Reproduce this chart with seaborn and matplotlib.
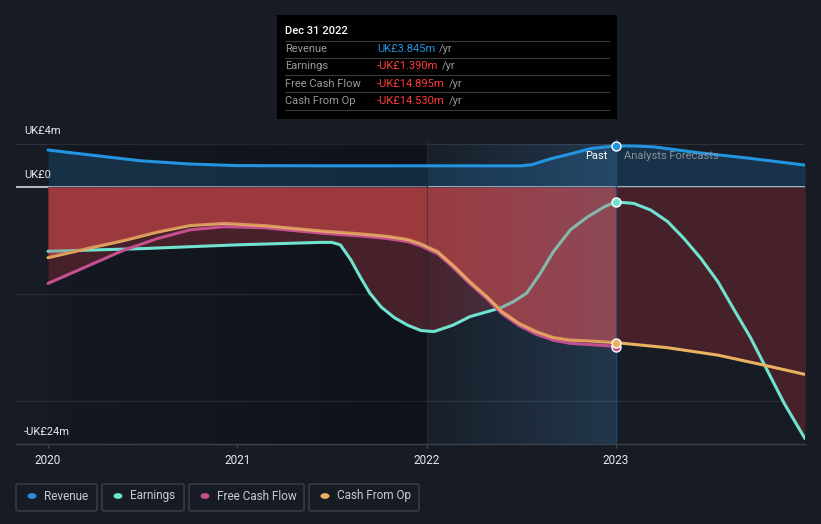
import numpy as np
import pandas as pd
import matplotlib
matplotlib.use("Agg")
import matplotlib.pyplot as plt
import seaborn as sns
from matplotlib.patches import FancyBboxPatch, Rectangle
import matplotlib.transforms as mtrans

# ---------------- data (UK£ m) ----------------
series_names = ["Revenue", "Earnings", "Free Cash Flow", "Cash From Op"]

rev_x = [2020.0, 2020.22, 2020.49, 2020.75, 2021.0, 2021.5, 2022.0, 2022.5, 2022.56, 2022.62,
         2022.68, 2022.74, 2022.87, 2023.0, 2023.1, 2023.2, 2023.44, 2023.7, 2024.0]
rev_y = [3.46, 3.0, 2.45, 2.15, 2.0, 1.98, 1.98, 1.98, 2.1, 2.45, 2.75, 3.0, 3.6, 3.845, 3.83,
         3.75, 3.2, 2.7, 2.05]

earn_x = [2020.0, 2020.5, 2021.0, 2021.44, 2021.5, 2021.545, 2021.6, 2021.65, 2021.7, 2021.76,
          2021.83, 2021.9, 2021.97, 2022.04, 2022.14, 2022.23, 2022.32, 2022.39, 2022.46,
          2022.53, 2022.6, 2022.67, 2022.76, 2022.85, 2022.94, 2023.0, 2023.095, 2023.185,
          2023.275, 2023.36, 2023.45, 2023.54, 2023.62, 2023.71, 2023.8, 2023.89, 2024.0]
earn_y = [-6.0, -5.75, -5.4, -5.17, -5.17, -5.4, -6.8, -8.4, -9.9, -11.2,
          -12.2, -12.9, -13.4, -13.5, -12.9, -12.1, -11.65, -11.3, -10.7,
          -9.9, -8.1, -6.05, -4.0, -2.8, -1.84, -1.39, -1.53, -2.15,
          -3.24, -4.8, -6.67, -8.85, -11.3, -14.0, -17.1, -20.2, -23.5]

fcf_x = [2020.0, 2020.22, 2020.4, 2020.58, 2020.75, 2020.93, 2021.14, 2021.32, 2021.44,
         2021.67, 2021.79, 2021.9, 2021.97, 2022.06, 2022.14, 2022.23, 2022.32, 2022.4,
         2022.49, 2022.58, 2022.67, 2022.76, 2022.85, 2022.94, 2023.0]
fcf_y = [-9.0, -7.3, -5.9, -4.8, -4.0, -3.7, -3.8, -4.1, -4.3,
         -4.6, -4.8, -5.1, -5.5, -6.25, -7.5, -9.05, -10.45, -11.85,
         -12.95, -13.75, -14.3, -14.6, -14.7, -14.8, -14.895]

cfo_x = [2020.0, 2020.22, 2020.4, 2020.58, 2020.75, 2020.93, 2021.14, 2021.32, 2021.44,
         2021.67, 2021.79, 2021.9, 2021.97, 2022.06, 2022.14, 2022.23, 2022.32, 2022.4,
         2022.49, 2022.58, 2022.67, 2022.76, 2022.85, 2023.0, 2023.27, 2023.54, 2023.8, 2024.0]
cfo_y = [-6.6, -5.7, -5.0, -4.2, -3.6, -3.4, -3.6, -3.9, -4.1,
         -4.4, -4.6, -4.9, -5.3, -6.05, -7.3, -8.85, -10.25, -11.65,
         -12.74, -13.5, -14.05, -14.3, -14.36, -14.53, -15.0, -15.7, -16.7, -17.5]

x_ticks = [2020, 2021, 2022, 2023]
x_tick_labels = ["2020", "2021", "2022", "2023"]
y_labels = {4: "UK£4m", 0: "UK£0", -24: "-UK£24m"}

tooltip_title = "Dec 31 2022"
tooltip_rows = [("Revenue", "UK£3.845m"), ("Earnings", "-UK£1.390m"),
                ("Free Cash Flow", "-UK£14.895m"), ("Cash From Op", "-UK£14.530m")]

# ---------------- style ----------------
C_REV = "#2394df"
C_EARN = "#6fe3d0"
C_FCF = "#c4508f"
C_CFO = "#e9b260"
colors = [C_REV, C_EARN, C_FCF, C_CFO]
BG = "#161b24"

sns.set_theme(style="dark")
plt.rcParams["font.family"] = ["Roboto", "DejaVu Sans"]

W, H = 821, 524
fig = plt.figure(figsize=(W / 100, H / 100), dpi=100, facecolor=BG)


def fx(px):
    return px / W


def fy(py):
    return 1 - py / H


YTOP = 4.5
ax = fig.add_axes([fx(16), fy(444), fx(805) - fx(16), fy(187 - YTOP * 10.7) - fy(444)])
ax.set_facecolor(BG)
for s in ["top", "right", "left"]:
    ax.spines[s].set_visible(False)
ax.spines["bottom"].set_color("#3b414b")
ax.spines["bottom"].set_linewidth(1)

# gridlines
for v in [4, -10, -20]:
    ax.axhline(v, color="#2c323b", lw=0.9, zorder=0.5)
ax.axhline(0, color="#e8e8ec", lw=1.1, zorder=0.6)

# left darker region
n = 200
dark = np.zeros((1, n, 4))
dark[0, :, 3] = np.linspace(0.08, 0.32, n)
ax.imshow(dark, extent=[2020, 2022, -24, 4.0], aspect="auto", zorder=0.7,
          interpolation="bilinear")

# fills
ax.fill_between(rev_x, rev_y, 0, color=C_REV, alpha=0.2, lw=0, zorder=1)
for xs, ys in [(earn_x, earn_y), (fcf_x, fcf_y), (cfo_x, cfo_y)]:
    ax.fill_between(xs, ys, 0, color="#47212a", lw=0, zorder=1.1)
past_n = sum(1 for v in cfo_x if v <= 2023.0)
ax.fill_between(cfo_x[:past_n], cfo_y[:past_n], 0, color="#922b30", lw=0, zorder=1.3)

# past highlight
blue = np.zeros((1, n, 4))
blue[0, :, 0] = 70 / 255
blue[0, :, 1] = 130 / 255
blue[0, :, 2] = 185 / 255
blue[0, :, 3] = np.linspace(0.04, 0.27, n)
ax.imshow(blue, extent=[2022, 2023, -24, 4.0], aspect="auto", zorder=2.5,
          interpolation="bilinear")
ax.axvline(2023, color="#1f4a6e", lw=1, zorder=2.6)
ax.axvline(2022, color="#222a35", lw=0.8, zorder=2.6)

# lines via seaborn
for xs, ys, c in [(rev_x, rev_y, C_REV), (earn_x, earn_y, C_EARN),
                  (fcf_x, fcf_y, C_FCF), (cfo_x, cfo_y, C_CFO)]:
    sns.lineplot(x=xs, y=ys, ax=ax, color=c, linewidth=2.2, estimator=None, sort=False,
                 zorder=3, solid_joinstyle="round", solid_capstyle="round")

# muted over-layer of cash-from-op fill (past)
ax.fill_between(cfo_x[:past_n], cfo_y[:past_n], 0, color="#b45a5e", alpha=0.3, lw=0,
                zorder=3.5)

# markers at Dec 2022
for ys, xs, c in [(fcf_y, fcf_x, C_FCF), (cfo_y, cfo_x, C_CFO),
                  (earn_y, earn_x, C_EARN), (rev_y, rev_x, C_REV)]:
    i = xs.index(2023.0)
    ax.scatter([xs[i]], [ys[i]], s=42, color=c, edgecolor="white", linewidth=1, zorder=5)

ax.set_xlim(2020 - 32 / 189, 2024.0)
ax.set_ylim(-24, YTOP)
ax.set_yticks([])
ax.set_xticks(x_ticks)
ax.set_xticklabels(x_tick_labels)
ax.tick_params(axis="x", colors="#3b414b", length=3, width=1, pad=4, labelsize=8.5,
               labelcolor="#e6e8ec", bottom=True, direction="out")
ax.grid(False)

# y labels
yt = mtrans.blended_transform_factory(ax.transAxes, ax.transData)
for val, off in [(4, 13), (0, 12), (-24, 12)]:
    t = ax.text(8 / 789, val, y_labels[val], ha="left", va="center", color="#e6e8ec",
                fontsize=8, zorder=6)
    t.set_transform(yt + mtrans.ScaledTranslation(0, off / 100, fig.dpi_scale_trans))

# Past / Analysts Forecasts
ax.annotate("Past", xy=(2023, 4), xytext=(-8 / 1.389, -12 / 1.389), textcoords="offset points",
            ha="right", va="center", color="#ffffff", fontsize=8, zorder=6)
ax.annotate("Analysts Forecasts", xy=(2023, 4), xytext=(8 / 1.389, -12 / 1.389),
            textcoords="offset points", ha="left", va="center", color="#8a9099", fontsize=8,
            zorder=6)

# ---------------- tooltip ----------------
fig.patches.append(Rectangle((fx(277), fy(119)), fx(617) - fx(277), fy(15) - fy(119),
                             transform=fig.transFigure, facecolor="#000000", edgecolor="none",
                             zorder=10))
fig.text(fx(285), fy(31), tooltip_title, color="white", fontsize=8, fontweight="medium",
         ha="left", va="center", zorder=11)
for yy in [41, 58, 75, 92, 110]:
    fig.lines.append(plt.Line2D([fx(285), fx(609)], [fy(yy), fy(yy)], transform=fig.transFigure,
                                color="#3a3a3a", lw=0.8, zorder=11))
renderer = fig.canvas.get_renderer()
row_y = [49, 66, 84, 101]
for (lab, val), yy in zip(tooltip_rows, row_y):
    fig.text(fx(285), fy(yy), lab, color="#9a9a9a", fontsize=8, ha="left", va="center", zorder=11)
    vc = C_REV if not val.startswith("-") else "#ff3b3b"
    t = fig.text(fx(377), fy(yy), val, color=vc, fontsize=8, ha="left", va="center", zorder=11)
    bb = t.get_window_extent(renderer)
    fig.text(bb.x1 / W + fx(4), fy(yy), "/yr", color="#9a9a9a", fontsize=8, ha="left",
             va="center", zorder=11)

# ---------------- legend ----------------
boxes = [(16, 97), (102, 184), (189, 304), (309, 419)]
for (x0, x1), name, c in zip(boxes, series_names, colors):
    fig.patches.append(FancyBboxPatch((fx(x0), fy(511)), fx(x1) - fx(x0), fy(484) - fy(511),
                                      boxstyle="round,pad=0,rounding_size=0.003",
                                      transform=fig.transFigure, facecolor="none",
                                      edgecolor="#3c424c", lw=1, zorder=10))
    fig.patches.append(plt.Circle((fx(x0 + 16), fy(496)), 4.5 / W, transform=fig.transFigure,
                                  facecolor=c, edgecolor="none", zorder=11))
    fig.text(fx(x0 + 28), fy(496), name, color="#c8ccd2", fontsize=8.5, ha="left",
             va="center", zorder=11)

fig.savefig("out.png", dpi=100, facecolor=BG)
